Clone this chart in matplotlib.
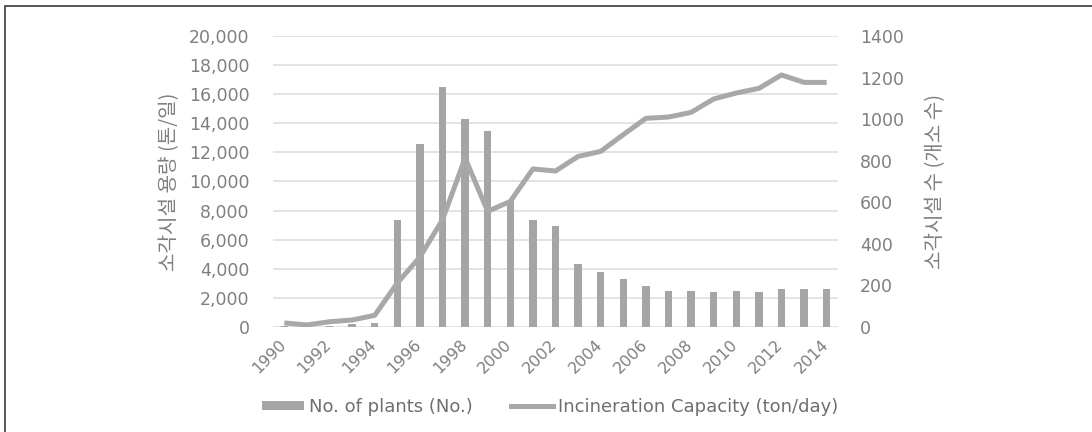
import matplotlib
matplotlib.use("Agg")
import matplotlib.pyplot as plt
import matplotlib.transforms as mtransforms
from matplotlib.patches import Patch, Rectangle
from matplotlib.lines import Line2D
from matplotlib.ticker import FuncFormatter, MultipleLocator

years = list(range(1990, 2015))
# number of incineration plants (right axis)
plants = [6, 0, 6, 13, 19, 515, 880, 1156, 1000, 944, 604, 515, 484,
          301, 266, 231, 195, 173, 173, 166, 173, 166, 181, 181, 181]
# incineration capacity in ton/day (left axis)
capacity = [280, 140, 360, 480, 800, 3020, 4810, 7370, 11610, 7950, 8630,
            10860, 10720, 11720, 12070, 13220, 14340, 14430, 14750, 15670,
            16080, 16400, 17320, 16810, 16810]
xtick_labels = [str(y) if y % 2 == 0 else "" for y in years]

bar_label = "No. of plants (No.)"
line_label = "Incineration Capacity (ton/day)"
left_title = "소각시설 용량 (톤/일)"
right_title = "소각시설 수 (개소 수)"

text_gray = "#7f7f7f"
bar_gray = "#a5a5a7"
line_gray = "#a8a8a8"
grid_gray = "#dedede"
kfont = ["Noto Sans CJK KR", "DejaVu Sans"]

fig = plt.figure(figsize=(10.92, 4.32), dpi=100)
ax = fig.add_axes([0.25, 0.2431, 0.5174, 0.6736])
ax2 = ax.twinx()
ax3 = ax.twinx()

x = list(range(len(years)))

# left axis: gridlines and capacity scale
ax.set_ylim(0, 20000)
ax.yaxis.set_major_locator(MultipleLocator(2000))
ax.yaxis.set_major_formatter(FuncFormatter(lambda v, p: f"{int(v):,}"))
ax.grid(axis="y", color=grid_gray, linewidth=1.2)
ax.set_axisbelow(True)
ax.set_xlim(-0.5, len(years) - 0.5)
ax.set_xticks(x)
ax.set_xticklabels(xtick_labels, rotation=45, ha="right", va="top",
                   rotation_mode="anchor")
ax.tick_params(axis="x", length=0, pad=7, labelsize=11.5, labelcolor=text_gray)
ax.tick_params(axis="y", length=0, pad=17, labelsize=12.5, labelcolor=text_gray)
ax.set_ylabel(left_title, family=kfont, fontsize=14.5, color=text_gray, labelpad=6)

shift = mtransforms.ScaledTranslation(-6 / 100, 0, fig.dpi_scale_trans)
for lbl in ax.get_xticklabels():
    lbl.set_transform(lbl.get_transform() + shift)

# right axis: bars for number of plants
ax2.bar(x, plants, width=0.32, color=bar_gray, zorder=2)
ax2.set_ylim(0, 1400)
ax2.yaxis.set_major_locator(MultipleLocator(200))
ax2.tick_params(axis="y", length=0, pad=16, labelsize=12.5, labelcolor=text_gray)
ax2.set_ylabel(right_title, family=kfont, fontsize=14.5, color=text_gray, labelpad=15)

# capacity line drawn on top, sharing the left scale
ax3.plot(x, capacity, color=line_gray, linewidth=3.6, solid_joinstyle="round",
         solid_capstyle="butt")
ax3.set_ylim(ax.get_ylim())
ax3.set_yticks([])

for a in (ax, ax2, ax3):
    for s in a.spines.values():
        s.set_visible(False)

handles = [Patch(facecolor=bar_gray, edgecolor="none"),
           Line2D([0], [0], color=line_gray, linewidth=3.6)]
fig.legend(handles, [bar_label, line_label], loc="center",
           bbox_to_anchor=(0.504, 1 - 407 / 432), ncol=2, frameon=False,
           fontsize=13, labelcolor="#6f6f6f", handlelength=2.3,
           handleheight=0.42, handletextpad=0.3, columnspacing=2.1)

# outer frame
fig.patches.append(Rectangle((5 / 1092, -0.1), 1.2, 1.1 - 6 / 432,
                             transform=fig.transFigure, fill=False,
                             edgecolor="#4a4a4a", linewidth=1.3))

fig.savefig("out.png", dpi=100)
